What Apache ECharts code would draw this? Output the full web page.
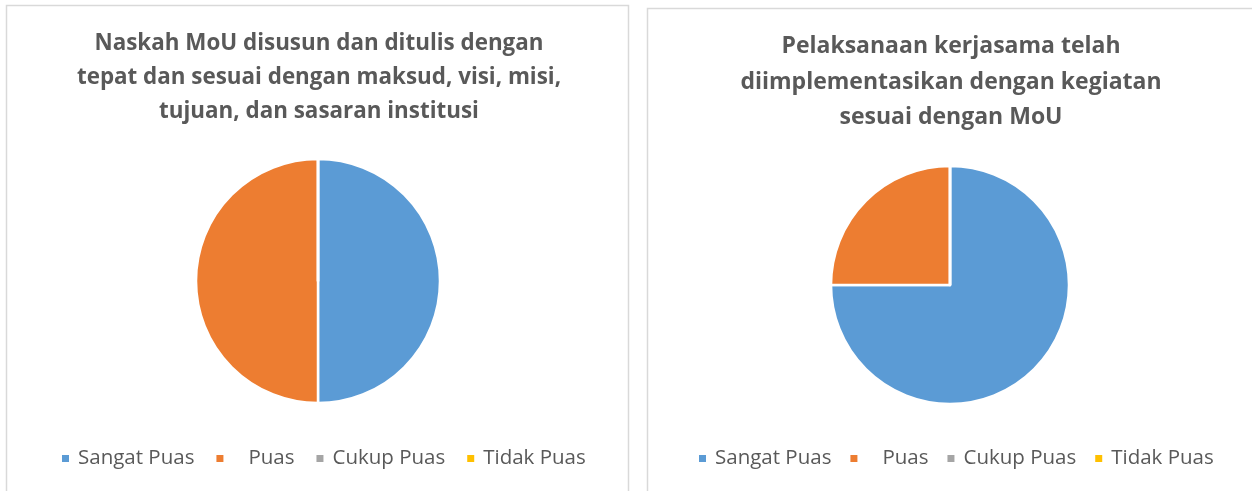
<!DOCTYPE html>
<html>
<head>
<meta charset="utf-8">
<script src="https://cdn.jsdelivr.net/npm/echarts@6/dist/echarts.min.js"></script>
<style>
html,body{margin:0;padding:0;background:#fff;}
#chart{width:1252px;height:491px;}
</style>
</head>
<body>
<div id="chart"></div>
<script>
// ---- data ----
var categories = ['Sangat Puas', 'Puas', 'Cukup Puas', 'Tidak Puas'];
var colors = ['#5B9BD5', '#ED7D31', '#A5A5A5', '#FFC000'];
var title1Lines = ['Naskah MoU disusun dan ditulis dengan', 'tepat dan sesuai dengan maksud, visi, misi,', 'tujuan, dan sasaran institusi'];
var title2Lines = ['Pelaksanaan kerjasama telah', 'diimplementasikan dengan kegiatan', 'sesuai dengan MoU'];
var values1 = [50, 50, 0, 0];
var values2 = [75, 25, 0, 0];

function buildData(vals) {
  return categories.map(function (c, i) {
    return { name: c, value: vals[i], itemStyle: { color: colors[i] } };
  });
}

var chart = echarts.init(document.getElementById('chart'), null, { renderer: 'canvas' });
var fontFam = '"Open Sans", Lato, sans-serif';
var legendCommon = {
  data: categories,
  orient: 'horizontal',
  icon: 'rect',
  itemWidth: 9,
  itemHeight: 9,
  itemGap: 20,
  padding: 0,
  selectedMode: false,
  formatter: function (n) { return n === 'Puas' ? '   Puas' : n; },
  textStyle: { fontSize: 20.5, color: '#595959', fontFamily: fontFam, padding: [0, 0, 0, 3] }
};

var option = {
  backgroundColor: '#ffffff',
  animation: false,
  graphic: [
    { type: 'rect', shape: { x: 6.5, y: 5.5, width: 622, height: 520 }, style: { fill: 'none', stroke: '#d9d9d9', lineWidth: 1.5 }, z: -1 },
    { type: 'rect', shape: { x: 647.5, y: 8.5, width: 700, height: 520 }, style: { fill: 'none', stroke: '#d9d9d9', lineWidth: 1.5 }, z: -1 }
  ],
  title: [
    { text: title1Lines.join('\n'), left: 319, top: 27, padding: 0, textAlign: 'center',
      textStyle: { fontSize: 22.4, fontWeight: 'bold', color: '#595959', fontFamily: fontFam, lineHeight: 34 } },
    { text: title2Lines.join('\n'), left: 951, top: 29, padding: 0, textAlign: 'center',
      textStyle: { fontSize: 23, fontWeight: 'bold', color: '#595959', fontFamily: fontFam, lineHeight: 35.5 } }
  ],
  legend: [
    Object.assign({}, legendCommon, { left: 60, top: 448 }),
    Object.assign({}, legendCommon, { left: 697, top: 448, itemGap: 17 })
  ],
  series: [
    { type: 'pie', name: 'chart1', center: [318, 281], radius: 122, startAngle: 90, clockwise: true,
      label: { show: false }, labelLine: { show: false }, silent: true,
      itemStyle: { borderColor: '#ffffff', borderWidth: 2.5 },
      data: buildData(values1) },
    { type: 'pie', name: 'chart2', center: [950, 285], radius: 119, startAngle: 90, clockwise: true,
      label: { show: false }, labelLine: { show: false }, silent: true,
      itemStyle: { borderColor: '#ffffff', borderWidth: 2.5 },
      data: buildData(values2) }
  ]
};
chart.setOption(option);
</script>
</body>
</html>
